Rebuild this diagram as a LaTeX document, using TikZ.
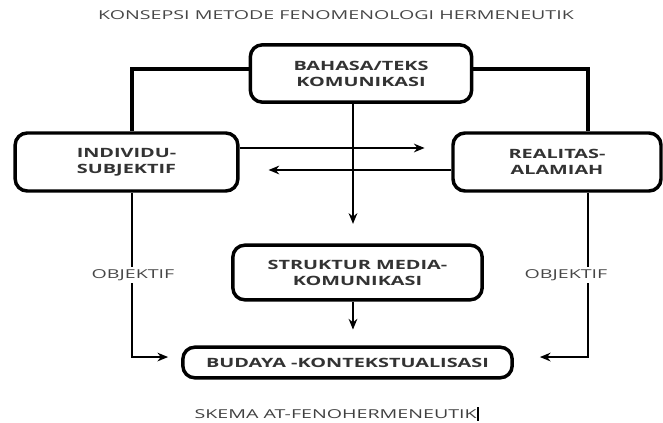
\documentclass[tikz,border=0pt]{standalone}
\usepackage{fontspec}
\setmainfont{Open Sans}
\newfontfamily\judulfont[FakeStretch=1.6]{Open Sans}
\newfontfamily\kotakfont[FakeStretch=1.55]{Open Sans}
\definecolor{abutulisan}{RGB}{70,70,70}
\usetikzlibrary{
  arrows.meta,
  positioning
}

\begin{document}
\begin{tikzpicture}[
    x=0.75pt, y=-0.75pt,
    kbox/.style={
      rectangle, rounded corners=9pt, draw=black, line width=2.6pt, fill=white,
      align=center, inner sep=0pt, text=black!80,
      font=\kotakfont\bfseries\fontsize{9.6}{12}\selectfont
    },
    arr/.style={-{Stealth[length=8pt,width=6.5pt]}, line width=2pt},
    garis/.style={line width=2.5pt},
    ket/.style={font=\judulfont\fontsize{9.2}{10}\selectfont, text=abutulisan, inner sep=2pt},
  ]
  \useasboundingbox (0,0) rectangle (663,423);

  %% --- Judul ---
  \node[ket] (judul) at (336,15) {KONSEPSI METODE FENOMENOLOGI HERMENEUTIK};

  %% --- Kotak ---
  \node[kbox, minimum width=166pt, minimum height=43pt] (bahasa)   at (361,73.5)  {BAHASA/TEKS\\KOMUNIKASI};
  \node[kbox, minimum width=167pt, minimum height=43.5pt] (individu) at (126.5,162) {INDIVIDU-\\SUBJEKTIF};
  \node[kbox, minimum width=156pt, minimum height=43.5pt] (realitas) at (557,162)   {REALITAS-\\ALAMIAH};
  \node[kbox, minimum width=187pt, minimum height=41pt] (struktur) at (357.5,272.5) {STRUKTUR MEDIA-\\KOMUNIKASI};
  \node[kbox, minimum width=247pt, minimum height=23pt] (budaya)   at (347.5,362.5) {BUDAYA -KONTEKSTUALISASI};

  %% --- Garis ---
  \draw[garis] ([yshift=3.4pt]bahasa.west) -| ([xshift=4pt]individu.north);
  \draw[garis] ([yshift=3.4pt]bahasa.east) -| ([xshift=23.25pt]realitas.north);

  \draw[arr] ([yshift=10.5pt]individu.east) -- ([xshift=-20pt,yshift=10.5pt]realitas.west);
  \draw[arr] ([yshift=-6pt]realitas.west) -- ([xshift=21.75pt,yshift=-6pt]individu.east);
  \draw[arr] ([xshift=-6pt]bahasa.south) -- ++(0,120);
  \draw[arr] ([xshift=-3.4pt]struktur.south) -- ++(0,28);

  \draw[arr] ([xshift=4pt]individu.south) |- ([xshift=-9.75pt,yshift=4.1pt]budaya.west);
  \draw[arr] ([xshift=23.25pt]realitas.south) |- ([xshift=19.5pt,yshift=4.1pt]budaya.east);

  \node[ket, fill=white] (objkiri)  at (133,275) {OBJEKTIF};
  \node[ket, fill=white] (objkanan) at (566,275) {OBJEKTIF};

  \node[ket, text=black!75] (skema) at (337,414)
    {SKEMA AT-FENOHERMENEUTIK{\color{black}\rule[-2pt]{2pt}{10pt}}};
\end{tikzpicture}
\end{document}
